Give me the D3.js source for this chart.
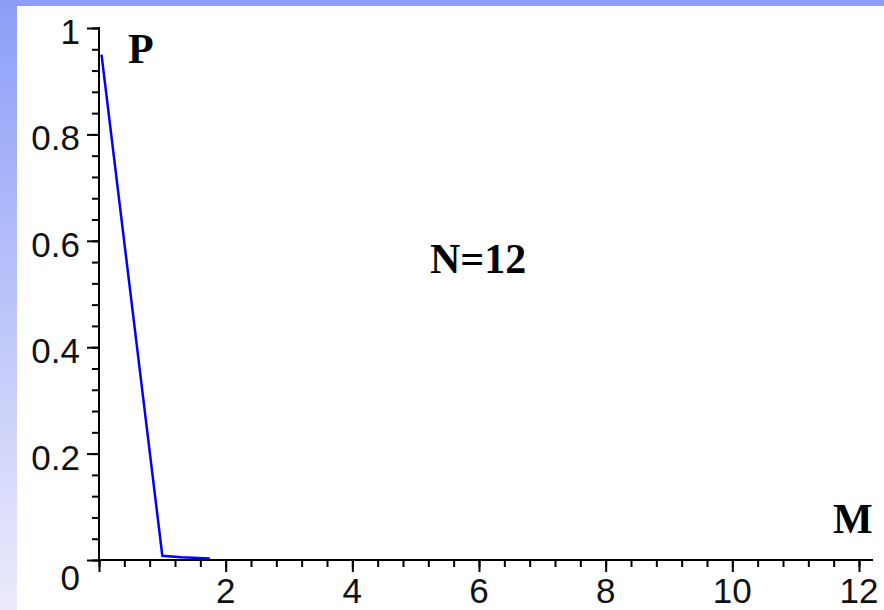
<!DOCTYPE html>
<html>
<head>
<meta charset="utf-8">
<script src="https://cdn.jsdelivr.net/npm/d3@7"></script>
<style>
  html, body { margin: 0; padding: 0; background: #fff; }
  svg { display: block; }
  .tick-label { font-family: "Liberation Sans", Arial, sans-serif; font-size: 35px; fill: #111; }
  .big { font-family: "Liberation Serif", "Times New Roman", serif; font-weight: bold; font-size: 42px; fill: #000; }
</style>
</head>
<body>
<div id="chart"></div>
<script>
const width = 884,
      height = 610;

// data
const mValues = [0.04, 1.0, 1.3, 1.75];
const pValues = [0.95, 0.008, 0.005, 0.003];
const xTickLabels = [2, 4, 6, 8, 10, 12];
const yTickLabels = [0.2, 0.4, 0.6, 0.8, 1];

const svg = d3.select("#chart")
  .append("svg")
    .attr("width", width)
    .attr("height", height);

// slide-style background: blue band on top and left
const grad = svg.append("defs")
  .append("linearGradient")
    .attr("id", "bg")
    .attr("x1", 0).attr("y1", 0)
    .attr("x2", 0).attr("y2", 1);
grad.append("stop").attr("offset", "0%").attr("stop-color", "#8c9ef8");
grad.append("stop").attr("offset", "100%").attr("stop-color", "#ecebfc");

svg.append("rect")
    .attr("width", width)
    .attr("height", height)
    .attr("fill", "url(#bg)");
svg.append("rect")
    .attr("x", 0).attr("y", 0)
    .attr("width", width).attr("height", 6)
    .attr("fill", "#8c9ef8");
svg.append("rect")
    .attr("x", 17).attr("y", 6)
    .attr("width", width - 17).attr("height", height - 6)
    .attr("fill", "#fff");

const x = d3.scaleLinear()
    .domain([0, 12])
    .range([99, 859]);

const y = d3.scaleLinear()
    .domain([0, 1])
    .range([560, 28]);

const g = svg.append("g");

// minor ticks
g.append("g")
    .attr("transform", `translate(${x(0)},0)`)
    .call(d3.axisLeft(y).tickValues(d3.range(0, 1.0001, 0.04)).tickSize(7).tickFormat(""))
    .call(a => a.select(".domain").remove())
    .selectAll("line").attr("stroke", "#000").attr("stroke-width", 2);

g.append("g")
    .attr("transform", `translate(0,${y(0)})`)
    .call(d3.axisBottom(x).tickValues(d3.range(0, 12.0001, 0.4)).tickSize(7).tickFormat(""))
    .call(a => a.select(".domain").remove())
    .selectAll("line").attr("stroke", "#000").attr("stroke-width", 2);

// major ticks
g.append("g")
    .attr("transform", `translate(${x(0)},0)`)
    .call(d3.axisLeft(y).tickValues([0].concat(yTickLabels)).tickSize(12).tickFormat(""))
    .call(a => a.select(".domain").remove())
    .selectAll("line").attr("stroke", "#000").attr("stroke-width", 2);

g.append("g")
    .attr("transform", `translate(0,${y(0)})`)
    .call(d3.axisBottom(x).tickValues([0].concat(xTickLabels)).tickSize(12).tickFormat(""))
    .call(a => a.select(".domain").remove())
    .selectAll("line").attr("stroke", "#000").attr("stroke-width", 2);

// axis lines
g.append("line")
    .attr("x1", x(0)).attr("x2", x(0))
    .attr("y1", y(1) - 1).attr("y2", y(0))
    .attr("stroke", "#000").attr("stroke-width", 2);
g.append("line")
    .attr("x1", x(0)).attr("x2", x(12) + 14)
    .attr("y1", y(0)).attr("y2", y(0))
    .attr("stroke", "#000").attr("stroke-width", 2);

// tick labels
g.selectAll(".ylab")
  .data(yTickLabels)
  .enter()
  .append("text")
    .attr("class", "tick-label")
    .attr("text-anchor", "end")
    .attr("x", x(0) - 19)
    .attr("y", d => y(d) + 16)
    .text(d => d3.format("~g")(d));

g.selectAll(".xlab")
  .data(xTickLabels)
  .enter()
  .append("text")
    .attr("class", "tick-label")
    .attr("text-anchor", "middle")
    .attr("x", d => x(d))
    .attr("y", y(0) + 43)
    .text(d => d);

g.append("text")
    .attr("class", "tick-label")
    .attr("text-anchor", "end")
    .attr("x", x(0) - 19)
    .attr("y", y(0) + 30)
    .text("0");

// curve
g.append("path")
    .datum(mValues.map((m, i) => [m, pValues[i]]))
    .attr("fill", "none")
    .attr("stroke", "#0000ff")
    .attr("stroke-width", 2.5)
    .attr("d", d3.line()
        .x(d => x(d[0]))
        .y(d => y(d[1])));

// labels
svg.append("text").attr("class", "big").attr("x", 128).attr("y", 63).text("P");
svg.append("text").attr("class", "big").attr("x", 430).attr("y", 273).text("N=12");
svg.append("text").attr("class", "big").attr("x", 833).attr("y", 533).text("M");
</script>
</body>
</html>
